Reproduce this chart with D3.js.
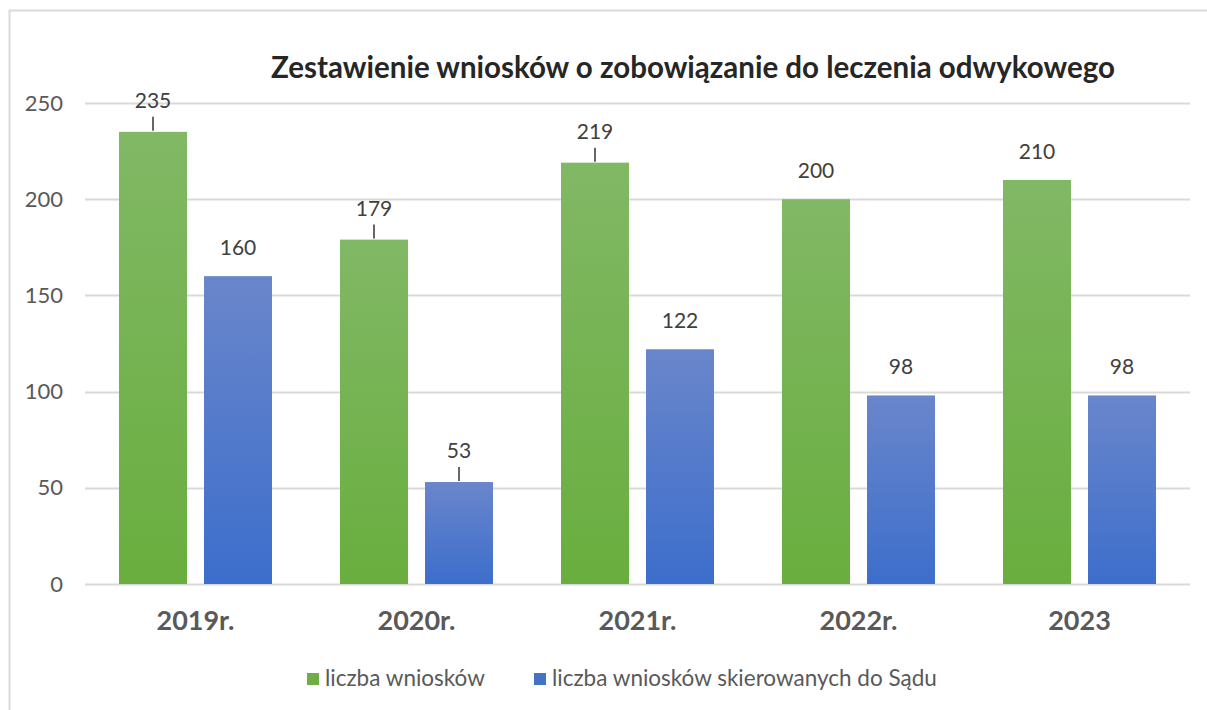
<!DOCTYPE html>
<html>
<head>
<meta charset="utf-8">
<script src="https://cdn.jsdelivr.net/npm/d3@7"></script>
<style>
  body { margin: 0; background: #fff; }
  svg { display: block; font-family: Lato, "Open Sans", sans-serif; }
</style>
</head>
<body>
<div class="chart"></div>
<script>
// chart data
var categories = ["2019r.", "2020r.", "2021r.", "2022r.", "2023"];
var wnioski = [235, 179, 219, 200, 210];
var skierowane = [160, 53, 122, 98, 98];
var seriesNames = ["liczba wniosków", "liczba wniosków skierowanych do Sądu"];
var yTicks = [0, 50, 100, 150, 200, 250];

var width = 1207;
var height = 710;

var svg = d3.select(".chart")
    .append("svg")
    .attr("width", width)
    .attr("height", height);

// gradients for bars
var defs = svg.append("defs");
function addGrad(id, top, bottom) {
    var g = defs.append("linearGradient")
        .attr("id", id)
        .attr("x1", "0%").attr("x2", "0%")
        .attr("y1", "0%").attr("y2", "100%");
    g.append("stop").attr("offset", "0%").style("stop-color", top);
    g.append("stop").attr("offset", "100%").style("stop-color", bottom);
}
addGrad("gradGreen", "#81b865", "#69ae3e");
addGrad("gradBlue", "#6a86cb", "#3c6ecb");

// outer chart border (right/bottom sides fall outside the picture)
svg.append("rect")
    .attr("x", 9.5).attr("y", 10.5)
    .attr("width", 1210).attr("height", 720)
    .attr("fill", "none")
    .attr("stroke", "#d9d9d9")
    .attr("stroke-width", 2);

//////// scales
var x0 = d3.scaleBand()
    .domain(categories)
    .range([85, 1190]);

var x1 = d3.scaleBand()
    .domain([0, 1])
    .range([0, x0.bandwidth()])
    .paddingInner(0.2)
    .paddingOuter(0.4);

var y = d3.scaleLinear()
    .domain([0, 250])
    .range([584, 103]);

//////// grid lines
svg.append("g")
    .selectAll("line")
    .data(yTicks)
    .enter()
    .append("line")
    .attr("x1", 85)
    .attr("x2", 1190)
    .attr("y1", function(d) { return Math.round(y(d)) + 0.5; })
    .attr("y2", function(d) { return Math.round(y(d)) + 0.5; })
    .attr("stroke", "#d9d9d9")
    .attr("stroke-width", 2);

// y axis labels
var yAxis = d3.axisLeft(y)
    .tickValues(yTicks)
    .tickSize(0)
    .tickPadding(0);
var yG = svg.append("g")
    .attr("transform", "translate(63,0)")
    .call(yAxis);
yG.select(".domain").remove();
yG.selectAll("text")
    .attr("font-size", "22px")
    .attr("fill", "#595959")
    .attr("font-family", "Lato, sans-serif");

// x axis labels
var xAxis = d3.axisBottom(x0).tickSize(0).tickPadding(0);
var xG = svg.append("g")
    .attr("transform", "translate(0,611)")
    .call(xAxis);
xG.select(".domain").remove();
xG.selectAll("text")
    .attr("font-size", "27px")
    .attr("font-weight", "bold")
    .attr("fill", "#595959")
    .attr("font-family", "Lato, sans-serif");

//////// bars
var series = [
    { values: wnioski, fill: "url(#gradGreen)", leader: [true, true, true, false, false] },
    { values: skierowane, fill: "url(#gradBlue)", leader: [false, true, false, false, false] }
];

series.forEach(function(s, si) {
    var g = svg.append("g");
    var cx = function(i) { return x0(categories[i]) + x1(si) + x1.bandwidth() / 2; };
    var points = s.values.map(function(v, i) { return { v: v, i: i, leader: s.leader[i] }; });

    g.selectAll("rect")
        .data(points)
        .enter()
        .append("rect")
        .attr("x", function(d) { return x0(categories[d.i]) + x1(si); })
        .attr("y", function(d) { return y(d.v); })
        .attr("width", x1.bandwidth())
        .attr("height", function(d) { return y(0) - y(d.v); })
        .attr("fill", s.fill);

    // leader lines
    g.selectAll("line")
        .data(points.filter(function(d) { return d.leader; }))
        .enter()
        .append("line")
        .attr("x1", function(d) { return cx(d.i); })
        .attr("x2", function(d) { return cx(d.i); })
        .attr("y1", function(d) { return y(d.v) - 15; })
        .attr("y2", function(d) { return y(d.v) - 1; })
        .attr("stroke", "#000")
        .attr("stroke-width", 1.2);

    // value labels
    g.selectAll("text")
        .data(points)
        .enter()
        .append("text")
        .attr("x", function(d) { return cx(d.i); })
        .attr("y", function(d) { return y(d.v) - (d.leader ? 24 : 21); })
        .attr("text-anchor", "middle")
        .attr("font-size", "21px")
        .attr("fill", "#404040")
        .text(function(d) { return d.v; });
});

//////// title
svg.append("text")
    .attr("x", 693)
    .attr("y", 78)
    .attr("text-anchor", "middle")
    .attr("font-size", "29.5px")
    .attr("font-weight", "bold")
    .attr("fill", "#262626")
    .text("Zestawienie wniosków o zobowiązanie do leczenia odwykowego");

//////// legend
var legendData = [
    { name: seriesNames[0], color: "#70ad47", x: 307 },
    { name: seriesNames[1], color: "#4472c4", x: 534 }
];
var legend = svg.append("g");
legend.selectAll("rect")
    .data(legendData)
    .enter()
    .append("rect")
    .attr("x", function(d) { return d.x; })
    .attr("y", 673)
    .attr("width", 12)
    .attr("height", 12)
    .attr("fill", function(d) { return d.color; });
legend.selectAll("text")
    .data(legendData)
    .enter()
    .append("text")
    .attr("x", function(d) { return d.x + 18; })
    .attr("y", 686)
    .attr("font-size", "22.5px")
    .attr("fill", "#595959")
    .text(function(d) { return d.name; });
</script>
</body>
</html>
